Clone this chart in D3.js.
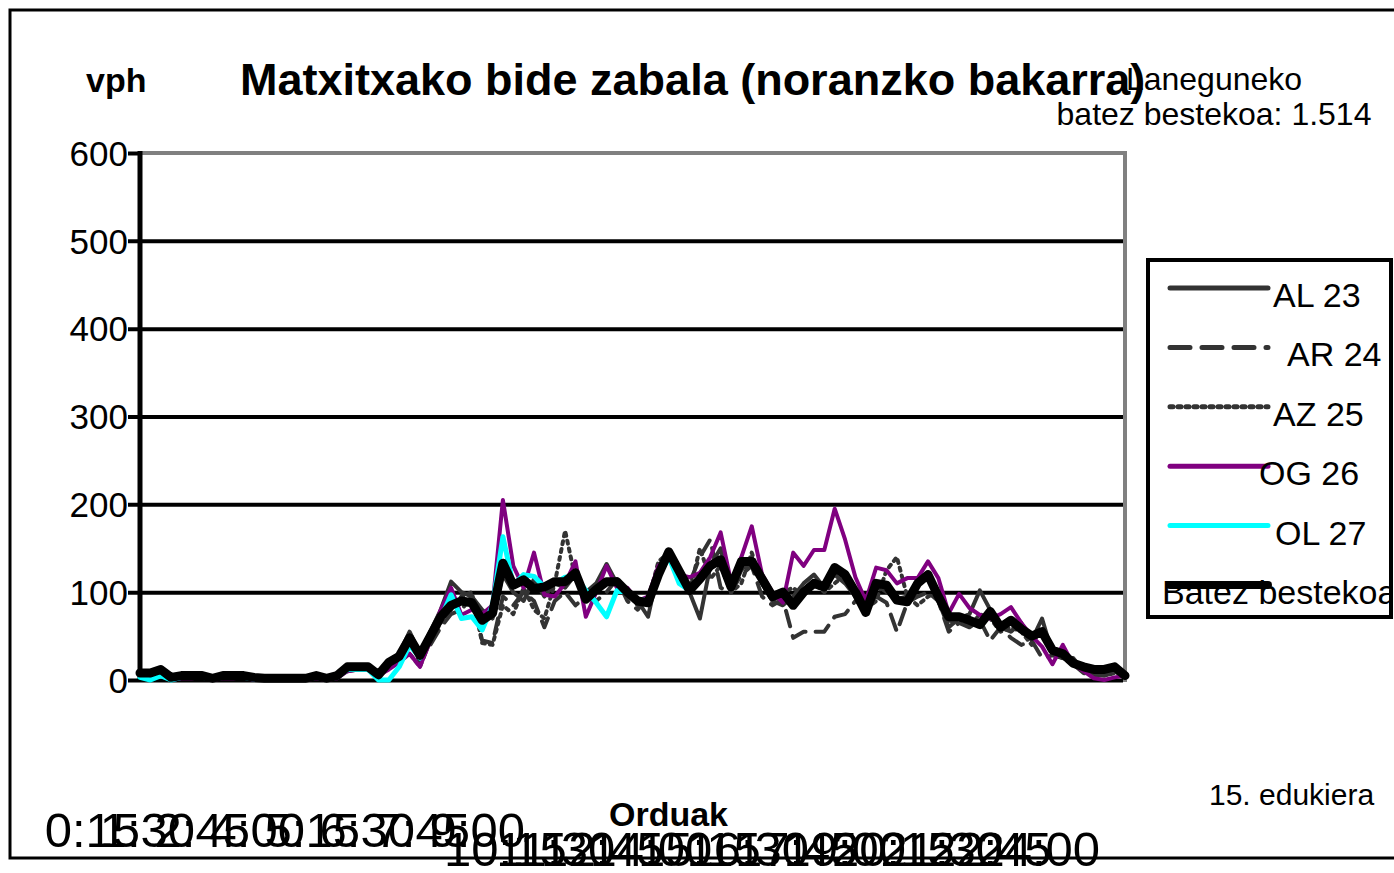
<!DOCTYPE html>
<html>
<head>
<meta charset="utf-8">
<script src="https://cdn.jsdelivr.net/npm/d3@7"></script>
<style>
  body { margin: 0; background: #fff; }
  svg { display: block; font-family: 'Liberation Sans', Arial, sans-serif; }
</style>
</head>
<body>
<div id="wrapper"></div>
<script>
// 1. Data (vph, 15-minute periods 0:15 .. 24:00)

const seriesNames = ['AL 23', 'AR 24', 'AZ 25', 'OG 26', 'OL 27', 'Batez bestekoa'];

const al23 = [5, 8, 10, 3, 4, 5, 5, 3, 4, 5, 4, 3, 2, 2, 2, 2, 2, 4, 2, 5,
  15, 14, 15, 8, 22, 30, 55, 30, 55, 80, 112, 100, 95, 80, 70, 120, 100, 90, 115, 95,
  110, 105, 120, 100, 110, 132, 110, 95, 90, 72, 125, 140, 115, 100, 70, 130, 150, 100, 125, 140,
  110, 90, 85, 95, 110, 120, 105, 120, 110, 95, 85, 108, 100, 92, 95, 110, 118, 90, 60, 70,
  75, 102, 80, 60, 55, 65, 45, 70, 30, 25, 25, 10, 5, 8, 10, 3];

const ar24 = [4, 6, 9, 2, 4, 4, 5, 2, 4, 4, 4, 2, 1, 1, 1, 1, 1, 3, 1, 4,
  10, 12, 12, 5, 15, 25, 45, 20, 40, 60, 75, 80, 95, 45, 42, 95, 85, 100, 90, 60,
  90, 100, 85, 95, 90, 100, 115, 90, 80, 95, 125, 140, 118, 110, 140, 160, 105, 100, 120, 130,
  95, 85, 92, 48, 55, 55, 55, 72, 75, 90, 85, 95, 88, 55, 88, 95, 100, 90, 55, 65,
  60, 68, 45, 60, 48, 40, 45, 25, 28, 25, 18, 8, 5, 5, 8, 3];

const az25 = [6, 7, 11, 3, 5, 5, 4, 2, 5, 5, 5, 3, 2, 2, 2, 2, 2, 5, 2, 5,
  12, 12, 12, 5, 18, 28, 30, 15, 45, 65, 80, 95, 100, 42, 40, 85, 75, 105, 80, 70,
  110, 170, 115, 95, 105, 110, 115, 100, 85, 90, 135, 145, 120, 100, 150, 115, 130, 100, 110, 145,
  110, 90, 100, 105, 95, 110, 100, 110, 120, 95, 80, 90, 125, 140, 95, 85, 95, 100, 65, 70,
  60, 75, 70, 55, 60, 55, 40, 60, 35, 25, 20, 12, 8, 5, 8, 5];

const og26 = [5, 3, 5, 0, 2, 2, 3, 0, 2, 2, 3, 0, 0, 0, 0, 0, 0, 2, 0, 2,
  10, 12, 12, 5, 12, 20, 30, 15, 45, 80, 105, 74, 80, 75, 85, 205, 130, 105, 145, 97,
  95, 110, 135, 72, 100, 130, 105, 105, 90, 95, 130, 140, 120, 117, 122, 140, 168, 112, 140, 175,
  120, 100, 88, 145, 130, 148, 148, 195, 160, 117, 90, 128, 125, 110, 116, 116, 135, 116, 76, 98,
  82, 74, 70, 75, 83, 65, 50, 38, 18, 40, 18, 10, 2, 0, 3, 5];

const ol27 = [3, 0, 5, 0, 3, 3, 3, 1, 3, 3, 3, 1, 1, 1, 1, 1, 1, 3, 1, 3,
  12, 12, 12, 0, 0, 15, 40, 25, 50, 70, 97, 70, 72, 57, 85, 163, 108, 120, 118, 106,
  110, 117, 118, 102, 88, 72, 102, 100, 92, 90, 120, 140, 110, 102, 115, 130, 137, 106, 135, 135,
  115, 95, 100, 85, 100, 110, 106, 128, 120, 100, 77, 110, 108, 91, 89, 110, 120, 95, 72, 72,
  68, 63, 78, 60, 68, 58, 50, 55, 34, 30, 19, 15, 12, 12, 15, 5];

const batez = [8, 8, 12, 3, 5, 5, 5, 2, 5, 5, 5, 3, 2, 2, 2, 2, 2, 5, 2, 5,
  15, 15, 15, 6, 20, 27, 48, 28, 50, 72, 85, 90, 88, 68, 76, 133, 108, 114, 104, 106,
  112, 112, 122, 92, 103, 112, 112, 100, 90, 88, 120, 146, 124, 102, 115, 130, 137, 106, 135, 135,
  115, 95, 100, 85, 100, 110, 106, 128, 120, 100, 77, 110, 108, 91, 89, 110, 120, 95, 72, 72,
  68, 63, 78, 60, 68, 58, 50, 55, 34, 30, 19, 15, 12, 12, 15, 5];

const seriesValues = [al23, ar24, az25, og26, ol27, batez];

// categories: end of each 15-minute period
const categories = d3.range(96).map((i) => {
  const m = (i + 1) * 15;
  return `${Math.floor(m / 60)}:${String(m % 60).padStart(2, '0')}`;
});
// labels end up in two rows (short ones above, long ones below)
const xTickLabelsTop = ['0:15', '1:30', '2:45', '4:00', '5:15', '6:30', '7:45', '9:00'];
const xTickLabelsBottom = ['10:15', '11:30', '12:45', '14:00', '15:15', '16:30', '17:45', '19:00',
  '20:15', '21:30', '22:45', '24:00'];
const yTicks = [0, 100, 200, 300, 400, 500, 600];

const seriesStyles = [
  { color: '#333333', width: 4, dash: null },
  { color: '#333333', width: 4, dash: '16 10' },
  { color: '#333333', width: 4, dash: '3 5' },
  { color: '#800080', width: 4, dash: null },
  { color: '#00ffff', width: 5, dash: null },
  { color: '#000000', width: 9, dash: null },
];

// 2. Dimensions

const dimensions = {
  width: 1394,
  height: 873,
  margin: { top: 153, right: 269, bottom: 193, left: 140 },
};
dimensions.boundedWidth = dimensions.width - dimensions.margin.left - dimensions.margin.right;
dimensions.boundedHeight = dimensions.height - dimensions.margin.top - dimensions.margin.bottom;

// 3. Canvas

const wrapper = d3.select('#wrapper')
  .append('svg')
  .attr('width', dimensions.width)
  .attr('height', dimensions.height);

wrapper.append('rect')
  .attr('x', 10).attr('y', 10)
  .attr('width', 1400).attr('height', 848)
  .attr('fill', 'none').attr('stroke', '#000').attr('stroke-width', 3);

const bounds = wrapper.append('g')
  .attr('transform', `translate(${dimensions.margin.left}, ${dimensions.margin.top})`);

// 4. Scales

const xScale = d3.scalePoint()
  .domain(categories)
  .range([0, dimensions.boundedWidth]);

const yScale = d3.scaleLinear()
  .domain([0, 600])
  .range([dimensions.boundedHeight, 0]);

// the overlapping labels drift a little from their ticks
const topLabelScale = d3.scalePoint()
  .domain(xTickLabelsTop)
  .range([xScale('0:15'), xScale('9:00') + 22]);
const bottomLabelScale = d3.scalePoint()
  .domain(xTickLabelsBottom)
  .range([xScale('10:15') + 12, xScale('24:00') - 25]);

// 5. Peripherals behind data

// plot area border (grey top and right)
bounds.append('path')
  .attr('d', `M0,0H${dimensions.boundedWidth}V${dimensions.boundedHeight + 2}`)
  .attr('fill', 'none').attr('stroke', '#808080').attr('stroke-width', 4);

const yAxisGenerator = d3.axisLeft(yScale)
  .tickValues(yTicks)
  .tickSizeOuter(0)
  .tickPadding(14);

const yAxis = bounds.append('g').call(yAxisGenerator);
yAxis.select('.domain').remove();
yAxis.selectAll('.tick line')
  .attr('x1', -12)
  .attr('x2', (d) => (d === 600 ? 0 : dimensions.boundedWidth - 2))
  .attr('stroke', '#000')
  .attr('stroke-width', 4);
yAxis.selectAll('.tick text')
  .attr('x', -12)
  .attr('dy', '0.35em')
  .attr('fill', '#000')
  .style('font-size', '35px')
  .style('font-family', "'Liberation Sans', Arial, sans-serif");

bounds.append('line')
  .attr('x1', 0).attr('x2', 0)
  .attr('y1', -2).attr('y2', dimensions.boundedHeight + 2)
  .attr('stroke', '#000').attr('stroke-width', 5);

// 6. Data

const lineGenerator = d3.line()
  .x((d, i) => xScale(categories[i]))
  .y((d) => yScale(d));

seriesValues.forEach((values, i) => {
  const s = seriesStyles[i];
  bounds.append('path')
    .attr('d', lineGenerator(values))
    .attr('fill', 'none')
    .attr('stroke', s.color)
    .attr('stroke-width', s.width)
    .attr('stroke-linejoin', 'round')
    .attr('stroke-linecap', 'round')
    .attr('stroke-dasharray', s.dash);
});

// x tick labels (huge, overlapping, as in the source)
bounds.append('g')
  .selectAll('text')
  .data(xTickLabelsTop)
  .join('text')
  .attr('x', (d) => topLabelScale(d))
  .attr('y', 694)
  .attr('text-anchor', 'end')
  .style('font-size', '49px')
  .text((d) => d);

bounds.append('g')
  .selectAll('text')
  .data(xTickLabelsBottom)
  .join('text')
  .attr('x', (d) => bottomLabelScale(d))
  .attr('y', 713)
  .attr('text-anchor', 'end')
  .style('font-size', '49px')
  .text((d) => d);

// 7. Titles and notes

wrapper.append('text')
  .attr('x', 1214).attr('y', 90)
  .attr('text-anchor', 'middle')
  .style('font-size', '32px')
  .text('Laneguneko');
wrapper.append('text')
  .attr('x', 1214).attr('y', 125)
  .attr('text-anchor', 'middle')
  .style('font-size', '32px')
  .text('batez bestekoa: 1.514');

wrapper.append('text')
  .attr('x', 240).attr('y', 95)
  .style('font-size', '45px').style('font-weight', 'bold')
  .text('Matxitxako bide zabala (noranzko bakarra)');

wrapper.append('text')
  .attr('x', 86).attr('y', 92)
  .style('font-size', '34px').style('font-weight', 'bold')
  .text('vph');

wrapper.append('text')
  .attr('x', 609).attr('y', 826)
  .style('font-size', '34px').style('font-weight', 'bold')
  .text('Orduak');

wrapper.append('text')
  .attr('x', 1209).attr('y', 805)
  .style('font-size', '30px')
  .text('15. edukiera');

// 8. Legend

const legendBox = { x: 1148, y: 260, w: 243, h: 357 };
wrapper.append('defs').append('clipPath')
  .attr('id', 'legend-clip')
  .append('rect')
  .attr('x', legendBox.x).attr('y', legendBox.y)
  .attr('width', legendBox.w - 2).attr('height', legendBox.h);

const legend = wrapper.append('g');
legend.append('rect')
  .attr('x', legendBox.x).attr('y', legendBox.y)
  .attr('width', legendBox.w).attr('height', legendBox.h)
  .attr('fill', '#fff').attr('stroke', '#000').attr('stroke-width', 4);

const legendY = d3.scalePoint().domain(seriesNames).range([288, 585]);
const legendTextX = [1273, 1287, 1273, 1259, 1275, 1162];

const items = legend.selectAll('g.item')
  .data(seriesNames)
  .join('g')
  .attr('class', 'item')
  .attr('clip-path', 'url(#legend-clip)');

items.append('line')
  .attr('x1', 1170).attr('x2', 1268)
  .attr('y1', (d) => legendY(d)).attr('y2', (d) => legendY(d))
  .attr('stroke', (d, i) => seriesStyles[i].color)
  .attr('stroke-width', (d, i) => (i === 5 ? 8 : 5))
  .attr('stroke-linecap', 'round')
  .attr('stroke-dasharray', (d, i) => (i === 1 ? '20 12' : i === 2 ? '3 5' : null));

items.append('text')
  .attr('x', (d, i) => legendTextX[i])
  .attr('y', (d) => legendY(d) + 19)
  .style('font-size', '34px')
  .text((d) => d);
</script>
</body>
</html>
